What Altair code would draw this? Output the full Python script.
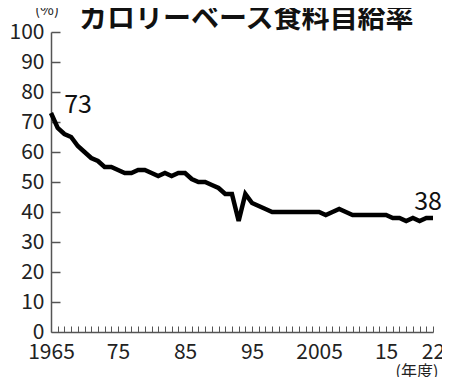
import altair as alt
import pandas as pd

years = list(range(1965, 2023))
rates = [73, 68, 66, 65, 62, 60, 58, 57, 55, 55,
         54, 53, 53, 54, 54, 53, 52, 53, 52, 53,
         53, 51, 50, 50, 49, 48, 46, 46, 37, 46,
         43, 42, 41, 40, 40, 40, 40, 40, 40, 40,
         40, 39, 40, 41, 40, 39, 39, 39, 39, 39,
         39, 38, 38, 37, 38, 37, 38, 38]
y_ticks = [10, 20, 30, 40, 50, 60, 70, 80, 90, 100]
x_label_years = [1965, 1975, 1985, 1995, 2005, 2015, 2022]
x_label_texts = ["1965", "75", "85", "95", "2005", "15", "22"]
title_text = "カロリーベース食料自給率"

W, H = 382, 300
FONT = "Noto Sans CJK JP"
GRAY = "#555555"

df = pd.DataFrame({"year": years, "rate": rates})
first = pd.DataFrame({"year": [years[0]], "rate": [rates[0]], "lab": [str(rates[0])]})
last = pd.DataFrame({"year": [years[-1]], "rate": [rates[-1]], "lab": [str(rates[-1])]})

label_expr = " : ".join(
    f"datum.value == {y} ? '{t}'" for y, t in zip(x_label_years, x_label_texts)
) + " : ''"

xs = alt.Scale(domain=[1965, 2022], nice=False, zero=False)
ys = alt.Scale(domain=[0, 100], nice=False)

x_axis = alt.Axis(
    orient="bottom", values=x_label_years, labelExpr=label_expr, title=None,
    grid=False, ticks=False, domainColor=GRAY, domainWidth=1.5, labelFont=FONT,
    labelFontSize=21, labelColor="#222", labelPadding=9, labelFlush=False,
    labelOverlap=False)
y_axis = alt.Axis(
    orient="left", values=[0] + y_ticks, title=None, grid=False, ticks=False,
    domainColor=GRAY, domainWidth=1.5, labelFont=FONT, labelFontSize=21,
    labelColor="#222", labelPadding=7, labelOverlap=False, labelFlush=False)

# inward-pointing tick axes (placed on the left/bottom edges via offsets)
x_tick_axis = alt.Axis(
    orient="top", offset=-H, values=years, labels=False, domain=False,
    ticks=True, tickSize=6, tickColor=GRAY, tickWidth=1, grid=False, title=None)
y_tick_axis = alt.Axis(
    orient="right", offset=-W, values=y_ticks, labels=False, domain=False,
    ticks=True, tickSize=9, tickColor=GRAY, tickWidth=1.5, grid=False, title=None)

X = lambda: alt.X("year:Q", scale=xs, axis=x_axis)
Y = lambda: alt.Y("rate:Q", scale=ys, axis=y_axis)

line = alt.Chart(df).mark_line(color="black", strokeWidth=4.5, strokeJoin="miter").encode(
    x=X(), y=Y())

lab1 = alt.Chart(first).mark_text(font=FONT, fontSize=25, color="#111", dx=27, dy=-8).encode(
    x=X(), y=Y(), text="lab:N")
lab2 = alt.Chart(last).mark_text(font=FONT, fontSize=25, color="#111", dx=-5, dy=-16).encode(
    x=X(), y=Y(), text="lab:N")

title = alt.Chart(pd.DataFrame({"t": [title_text]})).mark_text(
    font=FONT, fontSize=28, fontWeight="bold", color="#111", align="left"
).encode(x=alt.value(28), y=alt.value(-12), text="t:N")

pct = alt.Chart(pd.DataFrame({"t": ["(%)"]})).mark_text(
    font=FONT, fontSize=15, color="#222").encode(
    x=alt.value(-4), y=alt.value(-22), text="t:N")

nendo = alt.Chart(pd.DataFrame({"t": ["(年度)"]})).mark_text(
    font=FONT, fontSize=16, color="#222").encode(
    x=alt.value(366), y=alt.value(340), text="t:N")

main = alt.layer(line, lab1, lab2, title, pct, nendo)

ticks = alt.Chart(df).mark_line(opacity=0).encode(
    x=alt.X("year:Q", scale=xs, axis=x_tick_axis),
    y=alt.Y("rate:Q", scale=ys, axis=y_tick_axis),
)

chart = alt.layer(main, ticks).resolve_scale(
    x="independent", y="independent"
).resolve_axis(
    x="independent", y="independent"
).properties(
    width=W, height=H,
    autosize=alt.AutoSizeParams(type="none"),
    padding={"left": 43, "top": 24, "right": 9, "bottom": 45},
    background="white",
).configure_view(stroke=None)

chart.save("out.html", embed_options={"renderer": "svg", "actions": False})
